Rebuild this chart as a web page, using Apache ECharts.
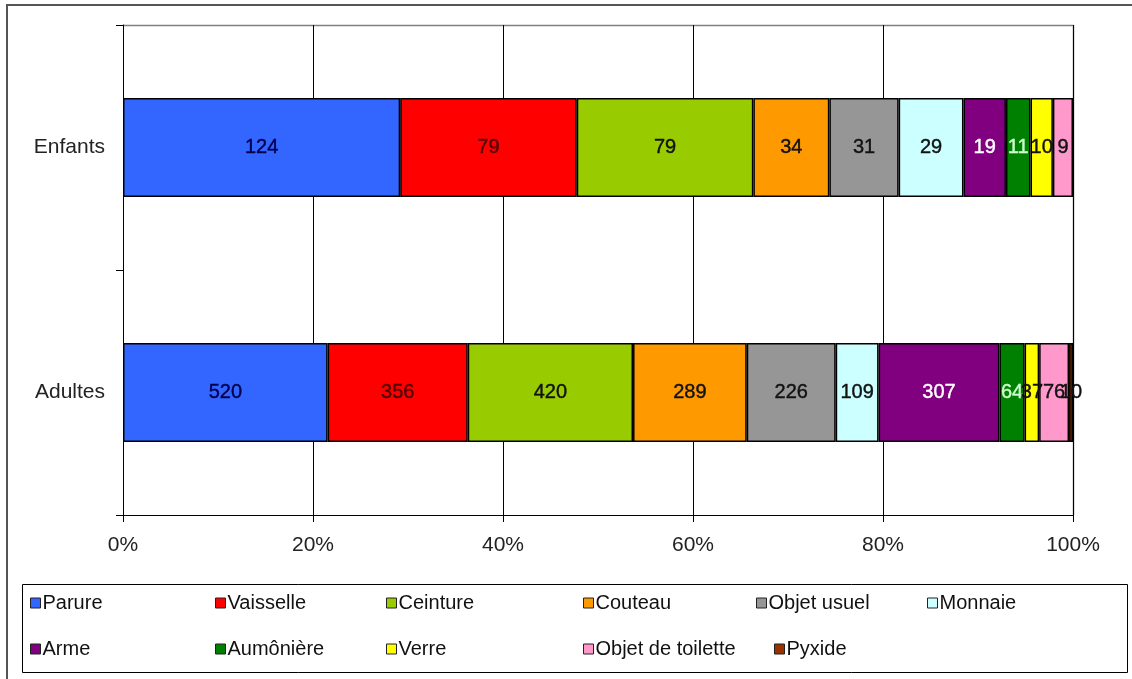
<!DOCTYPE html>
<html>
<head>
<meta charset="utf-8">
<script src="https://cdn.jsdelivr.net/npm/echarts@6/dist/echarts.min.js"></script>
<style>html,body{margin:0;padding:0;background:#fff}#c{width:1132px;height:679px}</style>
</head>
<body>
<div id="c"></div>
<script>
const categories = ['Enfants', 'Adultes'];
const seriesNames = ['Parure','Vaisselle','Ceinture','Couteau','Objet usuel','Monnaie','Arme','Aumônière','Verre','Objet de toilette','Pyxide'];
const parure = [124, 520];
const vaisselle = [79, 356];
const ceinture = [79, 420];
const couteau = [34, 289];
const objetUsuel = [31, 226];
const monnaie = [29, 109];
const arme = [19, 307];
const aumoniere = [11, 64];
const verre = [10, 37];
const objetToilette = [9, 76];
const pyxide = [null, 10];
const tickLabels = ['0%','20%','40%','60%','80%','100%'];

const values = [parure, vaisselle, ceinture, couteau, objetUsuel, monnaie, arme, aumoniere, verre, objetToilette, pyxide];
const colors = ['#3366FF','#FF0000','#99CC00','#FF9900','#969696','#CCFFFF','#800080','#008000','#FFFF00','#FF99CC','#993300'];
const labelColors = ['#000050','#500000','#111','#111','#111','#111','#fff','#CCFFCC','#111','#111','#111'];

const totals = categories.map((c, i) => values.reduce((s, arr) => s + (arr[i] || 0), 0));
const FONT = 'Liberation Sans, Arial, sans-serif';

const series = seriesNames.map((name, k) => ({
  name: name,
  type: 'bar',
  stack: 'all',
  barWidth: 99,
  data: values[k].map((v, i) => v == null ? null : v / totals[i] * 100),
  itemStyle: { color: colors[k], borderColor: '#000', borderWidth: 1.5 },
  label: {
    show: true,
    position: 'inside',
    color: labelColors[k],
    fontFamily: FONT,
    fontSize: 20,
    fontWeight: 'normal',
    textBorderColor: labelColors[k],
    textBorderWidth: 0.4,
    formatter: p => values[k][p.dataIndex]
  },
  emphasis: { disabled: true }
}));

const legendPos = [
  [30, 593], [215, 593], [386, 593], [583, 593], [756, 593], [927, 593],
  [30, 639], [215, 639], [386, 639], [583, 639], [774, 639]
];
const legends = seriesNames.map((name, k) => ({
  data: [name],
  left: legendPos[k][0],
  top: legendPos[k][1],
  icon: 'rect',
  itemWidth: 10,
  itemHeight: 10,
  itemGap: 0,
  padding: 0,
  itemStyle: { borderColor: '#222', borderWidth: 1 },
  textStyle: { fontFamily: FONT, fontSize: 20, color: '#111', padding: [0, 0, 0, -3] },
  selectedMode: false
}));

const chart = echarts.init(document.getElementById('c'));
chart.setOption({
  animation: false,
  backgroundColor: '#fff',
  grid: { left: 123, right: 59, top: 25, bottom: 164, containLabel: false },
  xAxis: {
    type: 'value',
    min: 0, max: 100, interval: 20,
    axisLine: { show: true, lineStyle: { color: '#000', width: 1 } },
    axisTick: { show: true, length: 7, lineStyle: { color: '#000' } },
    axisLabel: { fontFamily: FONT, fontSize: 21, color: '#222', margin: 20,
      formatter: v => tickLabels[Math.round(v / 20)] },
    splitLine: { show: true, lineStyle: { color: '#000', width: 1 } }
  },
  yAxis: {
    type: 'category',
    data: categories,
    inverse: true,
    axisLine: { show: true, lineStyle: { color: '#000', width: 1 } },
    axisTick: { show: true, length: 7, lineStyle: { color: '#000' } },
    axisLabel: { fontFamily: FONT, fontSize: 21, color: '#222', margin: 18 }
  },
  legend: legends,
  series: series,
  graphic: [
    { type: 'rect', shape: { x: 7, y: 5, width: 1140, height: 690 }, style: { fill: 'none', stroke: '#555', lineWidth: 2 }, silent: true },
    { type: 'polyline', shape: { points: [[123, 25.5], [1073.5, 25.5], [1073.5, 515]] }, style: { fill: 'none', stroke: '#808080', lineWidth: 1.5 }, silent: true },
    { type: 'rect', shape: { x: 22.5, y: 584.5, width: 1105, height: 88 }, style: { fill: 'none', stroke: '#000', lineWidth: 1 }, silent: true }
  ]
});
</script>
</body>
</html>
